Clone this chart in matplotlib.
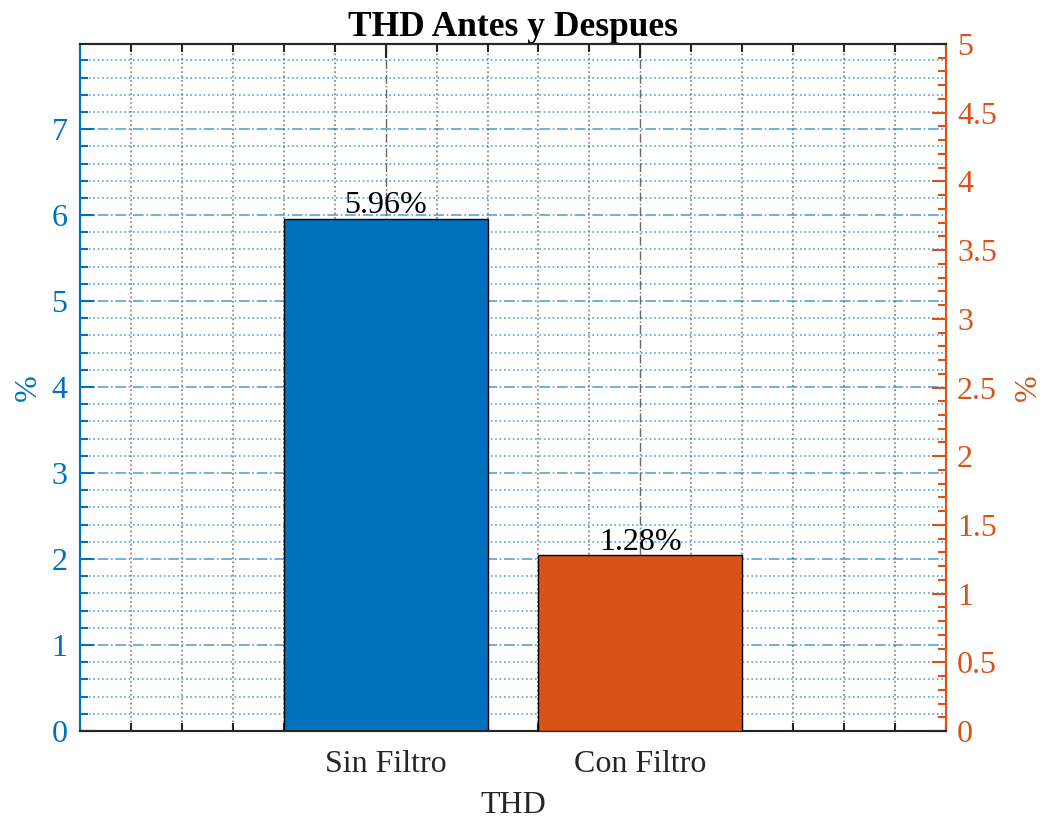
import matplotlib.pyplot as plt
from matplotlib.ticker import MultipleLocator
import numpy as np

# datos
categorias = ['Sin Filtro', 'Con Filtro']
thd_antes = 5.96      # eje izquierdo
thd_despues = 1.28    # eje derecho
etiquetas = ['5.96%', '1.28%']

azul = '#0072BD'
naranja = '#D95319'
gris = '#262626'

plt.rcParams['font.family'] = ['Liberation Serif', 'DejaVu Serif']
plt.rcParams['font.size'] = 23

fig = plt.figure(figsize=(10.47, 8.19), dpi=100)
ax1 = fig.add_axes([80 / 1047, 1 - 731 / 819, 866 / 1047, 687 / 819])
ax2 = ax1.twinx()

x = np.arange(1, len(categorias) + 1)

ax1.set_axisbelow(True)
ax1.bar(x[0], thd_antes, width=0.8, color=azul, edgecolor='black', linewidth=1, zorder=3)
ax2.bar(x[1], thd_despues, width=0.8, color=naranja, edgecolor='black', linewidth=1, zorder=3)

ax1.annotate(etiquetas[0], (x[0], thd_antes), xytext=(0, 4), textcoords='offset points',
             ha='center', va='baseline', fontsize=23, zorder=5)
ax2.annotate(etiquetas[1], (x[1], thd_despues), xytext=(0, 4), textcoords='offset points',
             ha='center', va='baseline', fontsize=23, zorder=5)

ax1.set_xlim(-0.2, 3.2)
ax1.set_ylim(0, 7.99)
ax2.set_ylim(0, 5)

ax1.set_xticks(x)
ax1.set_xticklabels(categorias, color=gris)
ax1.xaxis.set_minor_locator(MultipleLocator(0.2))
ax1.yaxis.set_major_locator(MultipleLocator(1))
ax1.yaxis.set_minor_locator(MultipleLocator(0.2))
ax2.yaxis.set_minor_locator(MultipleLocator(0.1))
ax2.set_yticks([0, 0.5, 1, 1.5, 2, 2.5, 3, 3.5, 4, 4.5, 5])
ax2.set_yticklabels(['0', '0.5', '1', '1.5', '2', '2.5', '3', '3.5', '4', '4.5', '5'])

# rejilla
ax1.grid(True, which='major', axis='y', color=azul, alpha=0.65, linestyle='-.', linewidth=1.2)
ax1.grid(True, which='minor', axis='y', color=azul, alpha=0.65, linestyle=':', linewidth=1.2)
ax1.grid(True, which='major', axis='x', color=gris, alpha=0.7, linestyle='-.', linewidth=1)
ax1.grid(True, which='minor', axis='x', color=gris, alpha=0.6, linestyle=':', linewidth=1.2)

ax1.tick_params(axis='x', which='both', direction='in', top=True, colors=gris, pad=14)
ax1.tick_params(axis='x', which='major', length=10, width=1.5)
ax1.tick_params(axis='x', which='minor', length=6, width=1.5)
ax1.tick_params(axis='y', which='both', direction='in', colors=azul, width=1.5)
ax1.tick_params(axis='y', which='major', length=10, pad=9)
ax1.tick_params(axis='y', which='minor', length=6)
ax2.tick_params(axis='y', which='both', direction='in', colors=naranja, width=1.5)
ax2.tick_params(axis='y', which='major', length=10, pad=8)
ax2.tick_params(axis='y', which='minor', length=6)

for ax in (ax1, ax2):
    ax.spines['top'].set_color(gris)
    ax.spines['bottom'].set_color(gris)
    ax.spines['left'].set_color(azul)
    ax.spines['right'].set_color(naranja)
    for s in ax.spines.values():
        s.set_linewidth(1.5)

ax1.set_ylabel('%', color=azul)
ax1.yaxis.set_label_coords(-0.043, 0.5)
ax2.set_ylabel('%', color=naranja)
ax2.yaxis.set_label_coords(1.078, 0.5)
ax1.set_xlabel('THD', color=gris, labelpad=8)
ax1.set_title('THD Antes y Despues', fontweight='bold', fontsize=25.5, pad=6)

fig.savefig('out.png', dpi=100)
